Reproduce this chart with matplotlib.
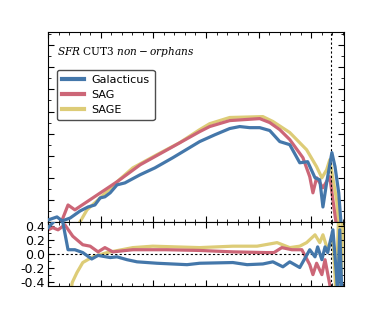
import matplotlib
matplotlib.use('Agg')
import matplotlib.pyplot as plt
from matplotlib.ticker import MultipleLocator

plt.rcParams['axes.unicode_minus'] = False
plt.rcParams['mathtext.fontset'] = 'dejavuserif'

# upper panel: distribution (arbitrary linear units)
gal_x = [0.00, 0.17, 0.27, 0.42, 0.61, 0.76, 0.89, 0.99, 1.08, 1.18, 1.31, 1.46,
         1.75, 2.03, 2.37, 2.88, 3.17, 3.45, 3.64, 3.83, 4.02, 4.21, 4.40, 4.59,
         4.78, 4.93, 5.07, 5.16, 5.22, 5.29, 5.39, 5.45, 5.52, 5.58]
gal_y = [0.09, 0.23, 0.05, 0.18, 0.50, 0.68, 0.77, 1.09, 1.14, 1.32, 1.68, 1.77,
         2.14, 2.45, 2.91, 3.64, 3.95, 4.23, 4.32, 4.27, 4.27, 4.14, 3.64, 3.50,
         2.68, 2.73, 2.00, 1.91, 0.68, 1.77, 3.14, 2.50, 1.32, -0.59]
sag_x = [0.00, 0.23, 0.38, 0.51, 0.85, 1.31, 1.75, 2.37, 2.88, 3.07, 3.45, 4.02,
         4.21, 4.40, 4.59, 4.84, 4.97, 5.03, 5.10, 5.22, 5.31, 5.35, 5.41, 5.48]
sag_y = [-0.45, -0.14, 0.77, 0.55, 1.09, 1.82, 2.59, 3.41, 4.09, 4.32, 4.59, 4.68,
         4.50, 4.18, 3.73, 2.91, 2.05, 1.32, 2.00, 1.55, 1.91, 2.05, 1.00, -0.23]
sage_x = [0.57, 0.65, 0.74, 0.95, 1.31, 1.61, 2.07, 2.50, 2.88, 3.07, 3.45, 4.08,
          4.27, 4.59, 4.91, 5.10, 5.20, 5.29, 5.35, 5.43, 5.48, 5.52]
sage_y = [-0.14, 0.18, 0.55, 1.00, 1.82, 2.45, 3.05, 3.59, 4.18, 4.45, 4.73, 4.77,
          4.55, 4.05, 3.27, 2.50, 2.00, 2.36, 2.82, 1.68, 1.00, -0.23]

# lower panel: residuals
gal_rx = [0.00, 0.17, 0.28, 0.38, 0.51, 0.66, 0.83, 0.95, 1.18, 1.31, 1.50, 1.69,
          2.07, 2.64, 2.88, 3.51, 3.78, 4.08, 4.27, 4.46, 4.59, 4.78, 4.97, 5.07,
          5.12, 5.20, 5.26, 5.31, 5.41, 5.48, 5.50, 5.54, 5.58]
gal_r = [0.37, 0.50, 0.45, 0.06, 0.06, 0.02, -0.07, -0.02, -0.05, -0.04, -0.08, -0.11,
         -0.13, -0.15, -0.13, -0.12, -0.15, -0.14, -0.11, -0.18, -0.11, -0.19, 0.06, -0.04,
         0.10, -0.08, 0.10, 0.02, 0.34, -0.32, -0.60, 0.34, -0.60]
sag_rx = [0.00, 0.09, 0.19, 0.32, 0.47, 0.66, 0.80, 0.95, 1.08, 1.23, 1.61, 2.26,
          2.88, 3.51, 4.14, 4.29, 4.44, 4.63, 4.82, 4.97, 5.03, 5.10, 5.20, 5.26,
          5.35, 5.41]
sag_r = [0.34, 0.37, 0.34, 0.41, 0.25, 0.13, 0.11, 0.03, 0.09, 0.03, 0.06, 0.06,
         0.05, 0.03, 0.02, 0.02, 0.09, 0.06, 0.06, -0.15, -0.29, -0.13, -0.29, -0.08,
         -0.43, -0.70]
sage_rx = [0.42, 0.46, 0.55, 0.66, 0.85, 1.12, 1.61, 1.99, 2.88, 3.51, 3.97, 4.35,
           4.59, 4.78, 4.91, 5.07, 5.16, 5.22, 5.31, 5.41, 5.47, 5.52, 5.56, 5.60]
sage_r = [-0.60, -0.40, -0.26, -0.12, -0.04, 0.02, 0.09, 0.11, 0.09, 0.11, 0.11, 0.16,
          0.09, 0.11, 0.16, 0.27, 0.16, 0.27, 0.06, 0.24, -0.60, 0.60, -0.60, 0.60]

vline_x = 5.37

c_gal = '#4477AA'
c_sag = '#CC6677'
c_sage = '#DDCC77'
lw = 2.3

fig = plt.figure(figsize=(3.82, 3.18), dpi=100)
ax1 = fig.add_axes([0.1257, 0.3019, 0.7748, 0.5975])
ax2 = fig.add_axes([0.1257, 0.1006, 0.7748, 0.2013], sharex=ax1)

ax1.plot(gal_x, gal_y, color=c_gal, lw=lw, label='Galacticus', zorder=3)
ax1.plot(sag_x, sag_y, color=c_sag, lw=lw, label='SAG', zorder=2)
ax1.plot(sage_x, sage_y, color=c_sage, lw=lw, label='SAGE', zorder=1)
ax1.axvline(vline_x, color='k', ls='--', lw=0.8, dashes=(2, 2))

ax2.plot(gal_rx, gal_r, color=c_gal, lw=lw, zorder=3)
ax2.plot(sag_rx, sag_r, color=c_sag, lw=lw, zorder=2)
ax2.plot(sage_rx, sage_r, color=c_sage, lw=lw, zorder=1)
ax2.axhline(0, color='k', ls='--', lw=0.8, dashes=(2, 2))
ax2.axvline(vline_x, color='k', ls='--', lw=0.8, dashes=(2, 2))

ax1.set_xlim(0, 5.62)
ax1.set_ylim(0, 8.6)
ax2.set_ylim(-0.45, 0.45)

for ax in (ax1, ax2):
    ax.xaxis.set_major_locator(MultipleLocator(1))
    ax.xaxis.set_minor_locator(MultipleLocator(0.2))
    ax.tick_params(which='both', direction='in', top=True, right=True)
    ax.tick_params(which='major', length=4, width=0.8)
    ax.tick_params(which='minor', length=2, width=0.6)
    ax.tick_params(labelbottom=False)

ax1.yaxis.set_major_locator(MultipleLocator(1))
ax1.yaxis.set_minor_locator(MultipleLocator(0.5))
ax1.tick_params(labelleft=False)
ax2.yaxis.set_major_locator(MultipleLocator(0.2))
ax2.yaxis.set_minor_locator(MultipleLocator(0.1))
ax2.set_yticks([0.4, 0.2, 0.0, -0.2, -0.4])
ax2.set_yticklabels(['0.4', '0.2', '0.0', '-0.2', '-0.4'], fontsize=9)
ax2.tick_params(axis='y', pad=2)

ax1.text(0.03, 0.93, r'$SFR$ CUT3 $non-orphans$', transform=ax1.transAxes,
         family='DejaVu Serif', fontsize=7.6, va='top', ha='left')

leg = ax1.legend(loc='upper left', bbox_to_anchor=(0.01, 0.83), fontsize=8,
                 handlelength=2.0, borderpad=0.45, labelspacing=0.45,
                 handletextpad=0.7, fancybox=True, framealpha=1, edgecolor='0.3')
for line in leg.get_lines():
    line.set_linewidth(3.0)

fig.savefig('out.png', dpi=100)
